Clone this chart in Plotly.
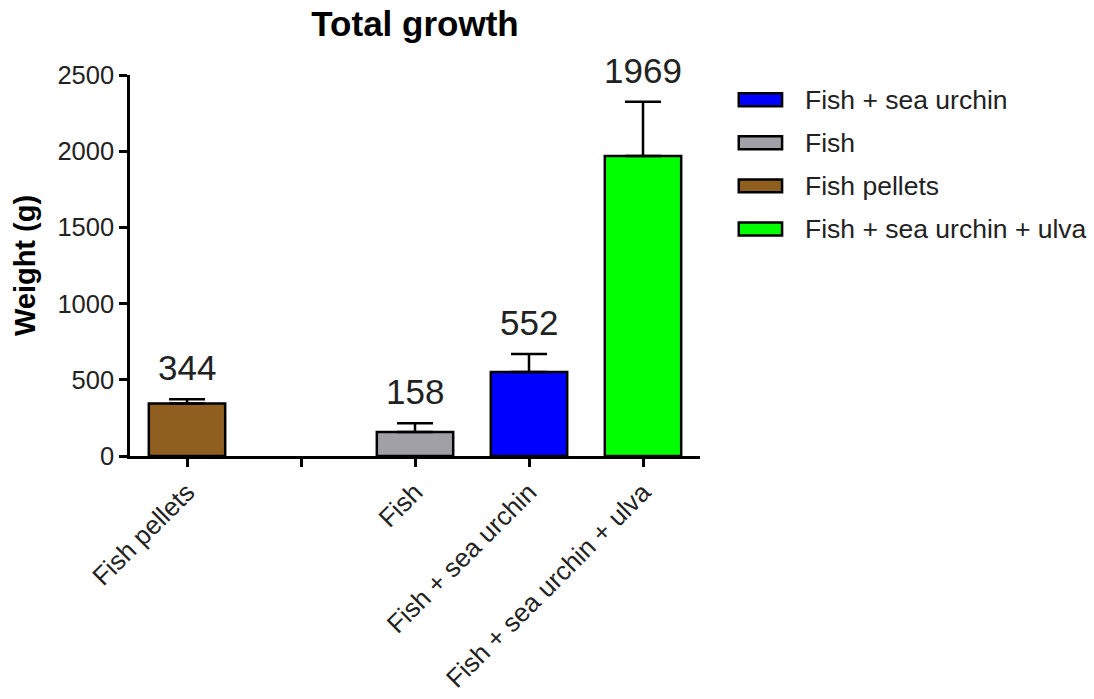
import plotly.graph_objects as go

# Treatments, plotted positions (slot 1 is left empty on purpose)
treatments = ["Fish pellets", "Fish", "Fish + sea urchin", "Fish + sea urchin + ulva"]
slots = [0, 2, 3, 4]
tick_slots = [0, 1, 2, 3, 4]
tick_labels = ["Fish pellets", "", "Fish", "Fish + sea urchin", "Fish + sea urchin + ulva"]
weights = [344, 158, 552, 1969]
errors_up = [28, 57, 117, 356]
colors = ["#8E5F1F", "#A0A0A6", "#0000FF", "#00FF00"]

# Legend order
legend_order = ["Fish + sea urchin", "Fish", "Fish pellets", "Fish + sea urchin + ulva"]

FONT = "Arial, Liberation Sans, sans-serif"

fig = go.Figure()
for name, xs, w, e, c in zip(treatments, slots, weights, errors_up, colors):
    fig.add_trace(go.Bar(
        x=[xs], y=[w], name=name,
        marker=dict(color=c, line=dict(color="black", width=2.5)),
        width=0.67,
        error_y=dict(type="data", array=[e], arrayminus=[0], symmetric=False,
                     color="black", thickness=2.5, width=18),
        showlegend=False,
    ))
    fig.add_annotation(x=xs, y=w + e, text=str(w), showarrow=False,
                       yanchor="bottom", yshift=10,
                       font=dict(family=FONT, size=35, color="#222"))

# Legend drawn as swatches with labels beside the plot
color_of = dict(zip(treatments, colors))
for i, name in enumerate(legend_order):
    yc = 0.935 - i * 0.113
    fig.add_shape(type="rect", xref="paper", yref="paper",
                  x0=1.068, x1=1.144, y0=yc - 0.017, y1=yc + 0.017,
                  fillcolor=color_of[name], line=dict(color="black", width=2.5))
    fig.add_annotation(xref="paper", yref="paper", x=1.18, y=yc, text=name,
                       showarrow=False, xanchor="left", yanchor="middle",
                       font=dict(family=FONT, size=26.5, color="#222"))

fig.update_layout(
    width=1094, height=699,
    margin=dict(l=130, r=394, t=75, b=243),
    plot_bgcolor="white", paper_bgcolor="white",
    title=dict(text="<b>Total growth</b>", x=415 / 1094, xanchor="center",
               y=0.966, yanchor="middle",
               font=dict(family=FONT, size=35, color="black")),
    font=dict(family=FONT, color="#222"),
    bargap=0.33,
)
fig.update_xaxes(
    range=[-0.5, 4.5], tickmode="array", tickvals=tick_slots, ticktext=tick_labels,
    tickangle=-45, showline=True, linecolor="black", linewidth=2.5,
    ticks="outside", ticklen=8, tickwidth=2.5, tickcolor="black", automargin=False,
    showgrid=False, zeroline=False, tickfont=dict(family=FONT, size=26, color="#222"),
)
fig.update_yaxes(
    range=[0, 2500], tickmode="array", tickvals=[0, 500, 1000, 1500, 2000, 2500],
    showline=True, linecolor="black", linewidth=2.5, automargin=False,
    ticks="outside", ticklen=8, tickwidth=2.5, tickcolor="black",
    showgrid=False, zeroline=False, tickfont=dict(family=FONT, size=25.5, color="#222"),
    title=dict(text="<b>Weight (g)</b>", font=dict(family=FONT, size=29, color="black"),
               standoff=14),
)

fig.write_html("out.html")
